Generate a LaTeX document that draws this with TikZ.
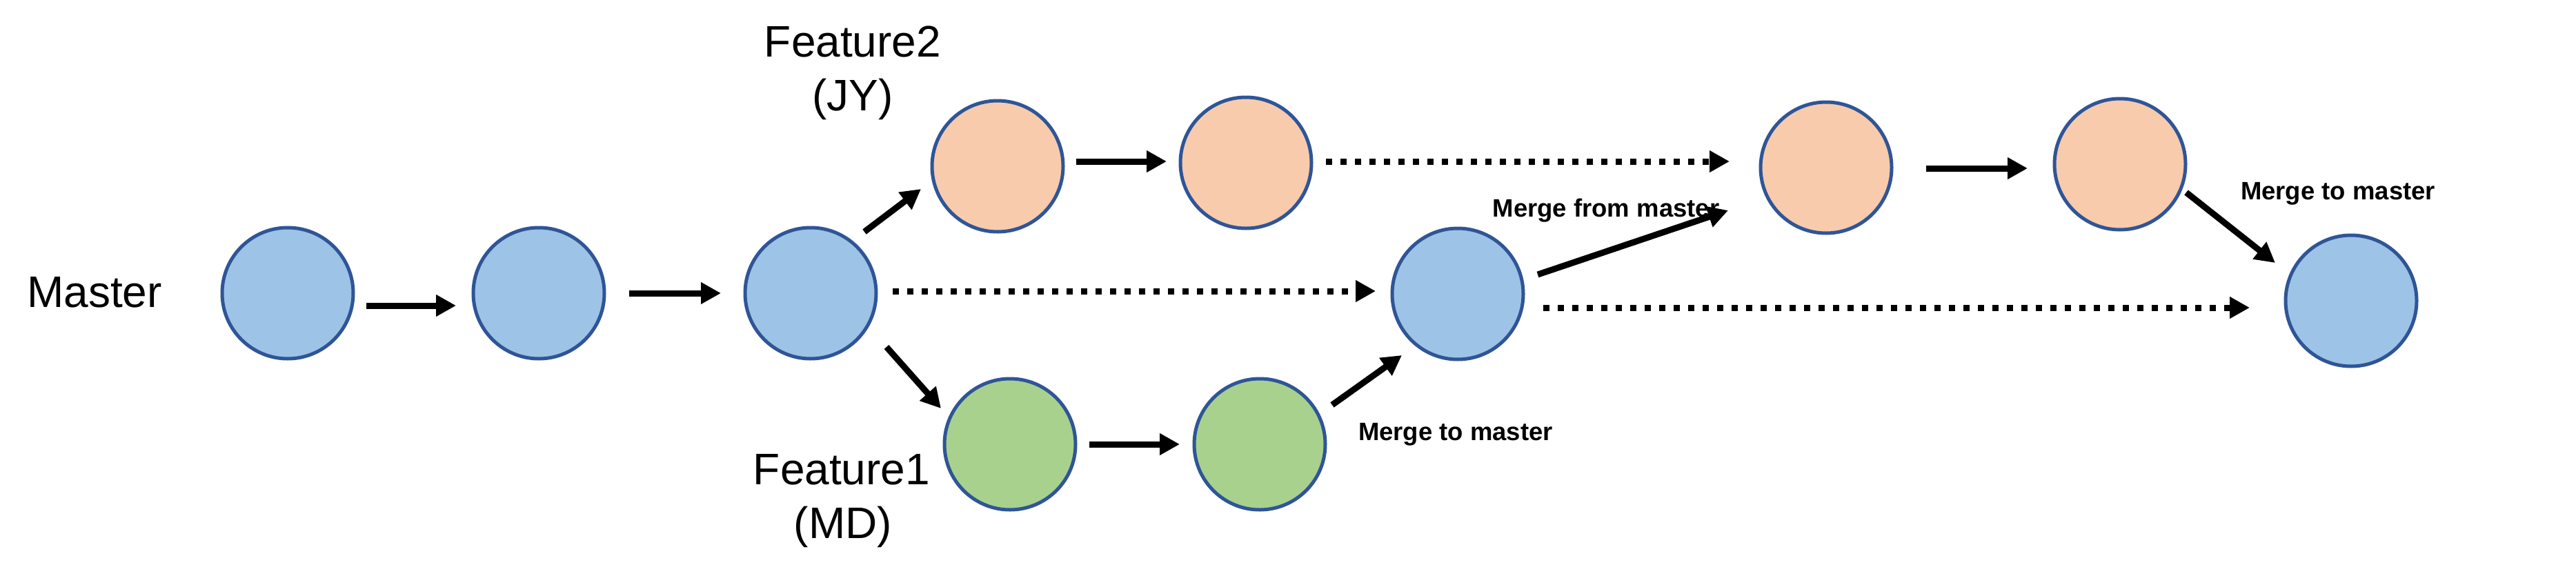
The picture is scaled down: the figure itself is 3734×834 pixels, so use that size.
\documentclass[tikz,border=0pt]{standalone}
\usepackage{fontspec}
\setmainfont{Liberation Sans}
\usetikzlibrary{arrows.meta}
\definecolor{bluefill}{HTML}{9DC3E6}
\definecolor{orangefill}{HTML}{F8CBAD}
\definecolor{greenfill}{HTML}{A9D18E}
\definecolor{ringcol}{HTML}{2F5597}
\begin{document}
\begin{tikzpicture}[x=0.3pt,y=-0.3pt,
  commit/.style={circle,draw=ringcol,line width=1.5pt,minimum size=57pt,inner sep=0pt},
  mc/.style={commit,fill=bluefill},
  fc/.style={commit,fill=orangefill},
  gc/.style={commit,fill=greenfill},
  arr/.style={line width=2.7pt,-{Triangle[length=8.7pt,width=9pt]}},
  darr/.style={arr,dash pattern=on 2.7pt off 3.6pt},
  big/.style={font=\fontsize{19.2}{23.4}\selectfont,inner sep=0pt,anchor=base},
  small/.style={font=\bfseries\fontsize{10.95}{13}\selectfont,inner sep=0pt,anchor=base}]
\useasboundingbox (0,0) rectangle (3734,834);
\fill[white] (0,0) rectangle (3734,834);

\node[mc] (m1) at (417,425) {};
\node[mc] (m2) at (781,425) {};
\node[mc] (m3) at (1175,425) {};
\node[fc] (o1) at (1446,241) {};
\node[fc] (o2) at (1806,236) {};
\node[gc] (g1) at (1464,644) {};
\node[gc] (g2) at (1826,644) {};
\node[mc] (m4) at (2113,426) {};
\node[fc] (o3) at (2647,243) {};
\node[fc] (o4) at (3073,238) {};
\node[mc] (m5) at (3408,436) {};

\node[big] (master) at (137,445) {Master};
\node[big] (f2a) at (1236,82) {Feature2};
\node[big] (f2b) at (1236,160) {(JY)};
\node[big] (f1a) at (1220,702) {Feature1};
\node[big] (f1b) at (1222,780) {(MD)};
\node[small] (mfm) at (2328,314) {Merge from master};
\node[small] (mtm1) at (2110,638) {Merge to master};
\node[small] (mtm2) at (3389,289) {Merge to master};

\draw[arr] ([shift={(114,18)}]m1.center) -- ([shift={(-120,18)}]m2.center);
\draw[arr] ([shift={(131,0)}]m2.center) -- ([shift={(-130,0)}]m3.center);
\draw[arr] ([shift={(78,-89)}]m3.center) -- ([shift={(-111,33)}]o1.center);
\draw[arr] ([shift={(110,78)}]m3.center) -- ([shift={(-100,-52)}]g1.center);
\draw[darr] ([shift={(119,-3)}]m3.center) -- ([shift={(-119,-4)}]m4.center);
\draw[arr] ([shift={(114,-7)}]o1.center) -- ([shift={(-115,-2)}]o2.center);
\draw[arr] ([shift={(115,0)}]g1.center) -- ([shift={(-116,0)}]g2.center);
\draw[arr] ([shift={(105,-57)}]g2.center) -- ([shift={(-81,89)}]m4.center);
\draw[darr] ([shift={(116,-2)}]o2.center) -- ([shift={(-140,-9)}]o3.center);
\draw[arr] ([shift={(116,-28)}]m4.center) -- ([shift={(-142,62)}]o3.center);
\draw[darr] ([shift={(124,20)}]m4.center) -- ([shift={(-147,10)}]m5.center);
\draw[arr] ([shift={(145,1)}]o3.center) -- ([shift={(-134,6)}]o4.center);
\draw[arr] ([shift={(96,41)}]o4.center) -- ([shift={(-110,-55)}]m5.center);
\end{tikzpicture}
\end{document}
